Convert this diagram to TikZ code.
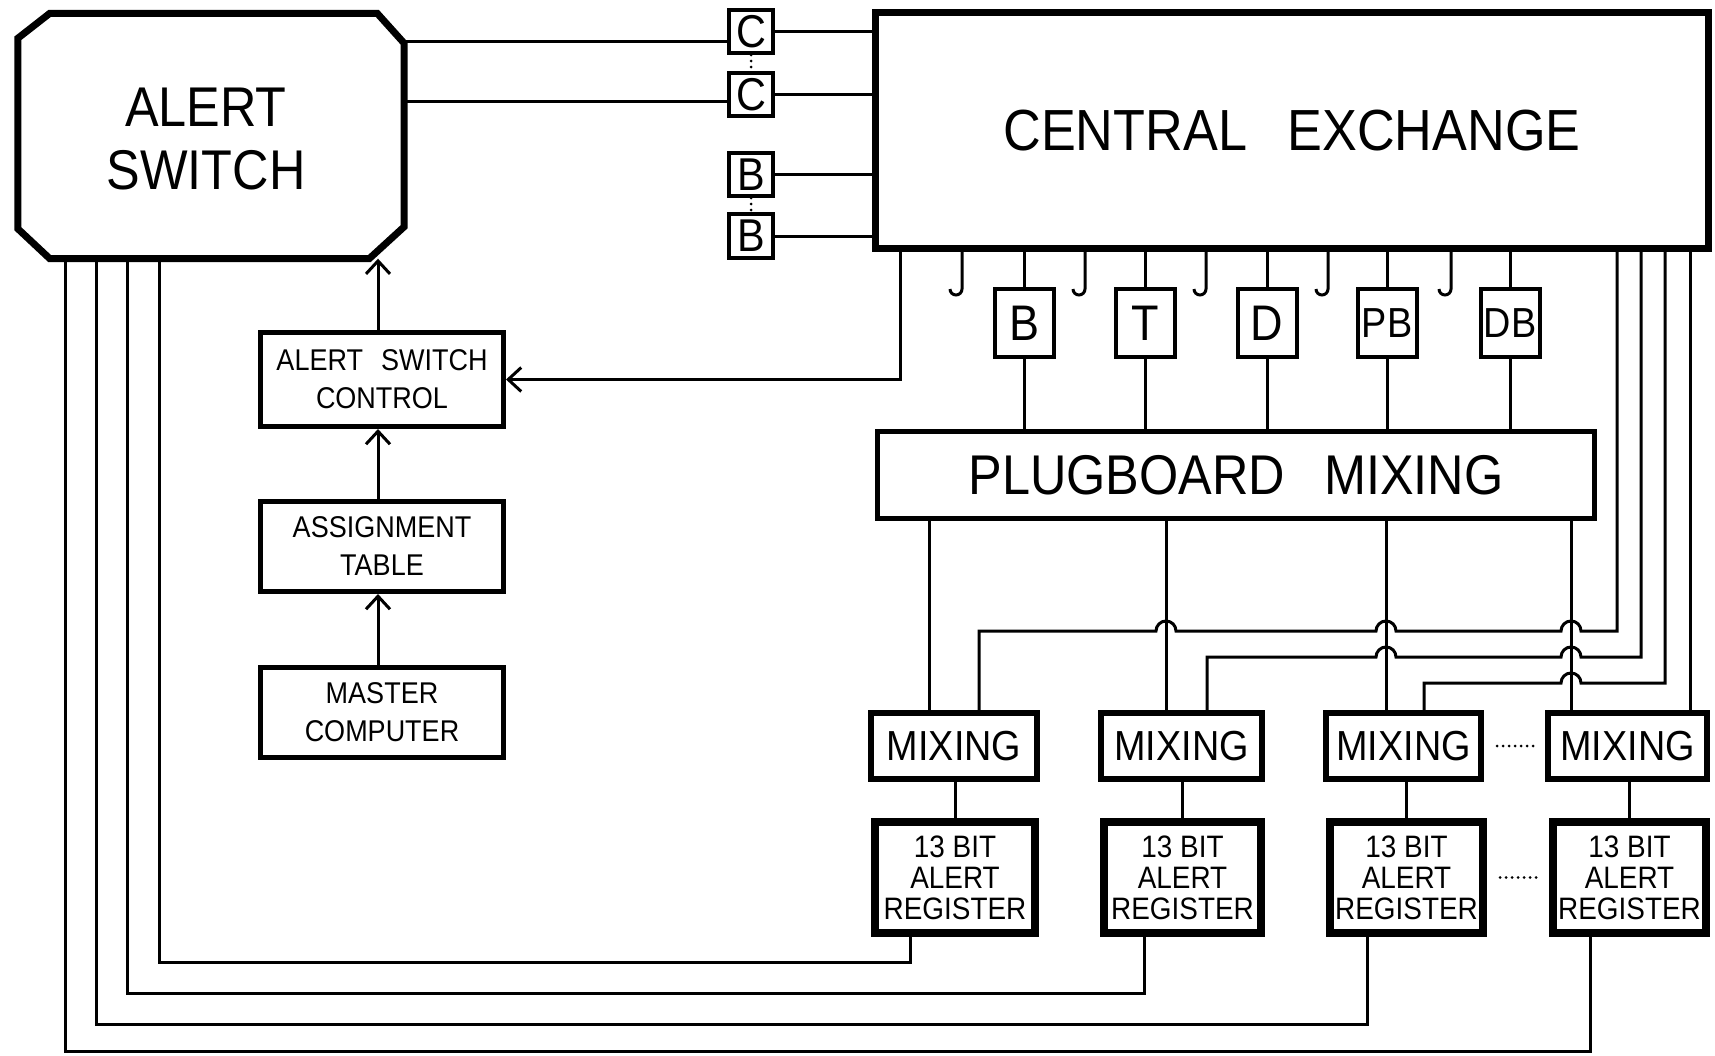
\documentclass[tikz,border=0pt]{standalone}
\usepackage{fontspec}
\newfontfamily\lett[FakeStretch=0.9]{Liberation Sans}
\usetikzlibrary{arrows.meta,calc}
\begin{document}
\begin{tikzpicture}[x=1pt,y=-1pt,
  every node/.style={font=\lett, inner sep=0pt, align=center},
  box/.style={draw, rectangle, line join=miter},
  heavy/.style={line width=7pt},
  med/.style={line width=5pt},
  reg/.style={line width=8pt},
  mix/.style={line width=6pt},
  thin/.style={line width=4pt},
  wire/.style={line width=3pt},
  arr/.style={wire, -{Straight Barb[length=13pt,width=24pt,line width=3pt]}},
  dots/.style={line width=3pt, line cap=round, dash pattern=on 0pt off 6pt},
  fA/.style={font=\lett\fontsize{56}{63}\selectfont},
  fCE/.style={font=\lett\fontsize{58}{63}\selectfont},
  fPB/.style={font=\lett\fontsize{56}{63}\selectfont},
  fS/.style={font=\lett\fontsize{30}{38}\selectfont},
  fM/.style={font=\lett\fontsize{42}{50}\selectfont},
  fR/.style={font=\lett\fontsize{31}{31}\selectfont},
  fB/.style={font=\lett\fontsize{50}{50}\selectfont},
  fBB/.style={font=\lett\fontsize{42}{50}\selectfont},
  fC/.style={font=\lett\fontsize{46}{46}\selectfont}
]
\useasboundingbox[fill=white] (0,0) rectangle (1715,1055);

% Alert switch (octagon)
\node[minimum width=386pt, minimum height=245pt] (as) at (211,136) {};
\draw[heavy, line join=miter]
  ($(as.north west)+(32,0)$) -- ($(as.north east)+(-27,0)$) -- ($(as.north east)+(0,30)$)
  -- ($(as.south east)+(0,-32)$) -- ($(as.south east)+(-35,0)$) -- ($(as.south west)+(32,0)$)
  -- ($(as.south west)+(0,-30)$) -- ($(as.north west)+(0,25)$) -- cycle;
\node[fA] (ast) at (206,139) {ALERT\\SWITCH};

% Central exchange
\node[box, heavy, fCE, minimum width=833pt, minimum height=236pt] (ce) at (1292,130.5)
  {CENTRAL\hspace{0.7em}EXCHANGE};

% C and B boxes
\node[box, thin, fC, minimum width=44pt, minimum height=43pt] (c1) at (751,31.5) {C};
\node[box, thin, fC, minimum width=44pt, minimum height=43pt] (c2) at (751,94.5) {C};
\node[box, thin, fC, minimum width=44pt, minimum height=43pt] (b1) at (751,174.5) {B};
\node[box, thin, fC, minimum width=44pt, minimum height=44pt] (b2) at (751,236) {B};
\draw[dots] (c1.south) -- (c2.north);
\draw[dots] (b1.south) -- (b2.north);

\draw[wire] (as.east |- 0,41) -- (c1.west |- 0,41);
\draw[wire] (as.east |- 0,101) -- (c2.west |- 0,101);
\foreach \n in {c1,c2,b1,b2} \draw[wire] (\n.east) -- (\n.east -| ce.west);

% small boxes under CE
\node[box, thin, fB, minimum width=59pt, minimum height=68pt] (sb) at (1024,323) {B};
\node[box, thin, fB, minimum width=59pt, minimum height=68pt] (st) at (1145,323) {T};
\node[box, thin, fB, minimum width=59pt, minimum height=68pt] (sd) at (1267,323) {D};
\node[box, thin, fBB, minimum width=59pt, minimum height=68pt] (spb) at (1387,323) {PB};
\node[box, thin, fBB, minimum width=59pt, minimum height=68pt] (sdb) at (1510,323) {DB};

% plugboard
\node[box, med, fPB, minimum width=717pt, minimum height=87pt] (pbm) at (1236,475)
  {PLUGBOARD\hspace{0.7em}MIXING};

\foreach \n in {sb,st,sd,spb,sdb} {
  \draw[wire] (\n.north) -- (\n.north |- ce.south);
  \draw[wire] (\n.south) -- (\n.south |- pbm.north);
}

% hooks
\foreach \i/\hx in {1/962,2/1085,3/1206,4/1328,5/1451} {
  \coordinate (hk\i) at (\hx,289);
  \draw[wire] (ce.south -| hk\i) -- (hk\i) arc[start angle=0, end angle=-180, radius=6pt];
}

% left column
\node[box, med, fS, minimum width=243pt, minimum height=94pt] (asc) at (382,379.5)
  {ALERT\hspace{0.6em}SWITCH\\CONTROL};
\node[box, med, fS, minimum width=243pt, minimum height=90pt] (at) at (382,546.5)
  {ASSIGNMENT\\TABLE};
\node[box, med, fS, minimum width=243pt, minimum height=90pt] (mc) at (382,712.5)
  {MASTER\\COMPUTER};

\coordinate (cx) at (900,0);
\draw[arr] (ce.south -| cx) |- (asc.east);
\draw[arr] (asc.north -| 378,0) -- (as.south -| 378,0);
\draw[arr] (at.north -| 378,0) -- (asc.south -| 378,0);
\draw[arr] (mc.north -| 378,0) -- (at.south -| 378,0);

% mixing boxes
\node[box, mix, fM, minimum width=166pt, minimum height=66pt] (m1) at (954,746) {MIXING};
\node[box, mix, fM, minimum width=161pt, minimum height=66pt] (m2) at (1181.5,746) {MIXING};
\node[box, mix, fM, minimum width=155pt, minimum height=66pt] (m3) at (1403.5,746) {MIXING};
\node[box, mix, fM, minimum width=159pt, minimum height=66pt] (m4) at (1627.5,746) {MIXING};
\draw[dots, shorten <=13pt, shorten >=11pt] (m3.east) -- (m4.west);

% registers
\node[box, reg, fR, minimum width=160pt, minimum height=111pt] (r1) at (955,877.5) {13 BIT\\ALERT\\REGISTER};
\node[box, reg, fR, minimum width=157pt, minimum height=111pt] (r2) at (1182.5,877.5) {13 BIT\\ALERT\\REGISTER};
\node[box, reg, fR, minimum width=153pt, minimum height=111pt] (r3) at (1406.5,877.5) {13 BIT\\ALERT\\REGISTER};
\node[box, reg, fR, minimum width=153pt, minimum height=111pt] (r4) at (1629.5,877.5) {13 BIT\\ALERT\\REGISTER};
\draw[dots, shorten <=13pt, shorten >=11pt] (r3.east) -- (r4.west);

\foreach \i in {1,2,3,4} \draw[wire] (r\i.north) -- (r\i.north |- m\i.south);

% plugboard to mixing
\draw[wire] (pbm.south -| 929,0) -- (m1.north -| 929,0);
\draw[wire] (pbm.south -| 1166,0) -- (m2.north -| 1166,0);
\draw[wire] (pbm.south -| 1386,0) -- (m3.north -| 1386,0);
\draw[wire] (pbm.south -| 1571,0) -- (m4.north -| 1571,0);

% CE to mixing with jumps
\draw[wire] (ce.south -| 1617,0) -- (1617,631) -- (1581,631)
  arc[start angle=0, end angle=180, radius=10pt] -- (1396,631)
  arc[start angle=0, end angle=180, radius=10pt] -- (1176,631)
  arc[start angle=0, end angle=180, radius=10pt] -- (979,631) -- (m1.north -| 979,0);
\draw[wire] (ce.south -| 1641,0) -- (1641,657) -- (1581,657)
  arc[start angle=0, end angle=180, radius=10pt] -- (1396,657)
  arc[start angle=0, end angle=180, radius=10pt] -- (1207,657) -- (m2.north -| 1207,0);
\draw[wire] (ce.south -| 1665,0) -- (1665,683) -- (1581,683)
  arc[start angle=0, end angle=180, radius=10pt] -- (1424,683) -- (m3.north -| 1424,0);
\draw[wire] (ce.south -| 1690,0) -- (m4.north -| 1690,0);

% registers back to alert switch
\draw[wire] (r1.south -| 910,0) -- (910,962) -- (159,962) -- (as.south -| 159,0);
\draw[wire] (r2.south -| 1144,0) -- (1144,993) -- (127,993) -- (as.south -| 127,0);
\draw[wire] (r3.south -| 1367,0) -- (1367,1024) -- (96,1024) -- (as.south -| 96,0);
\draw[wire] (r4.south -| 1590,0) -- (1590,1051) -- (65,1051) -- (as.south -| 65,0);
\end{tikzpicture}
\end{document}
